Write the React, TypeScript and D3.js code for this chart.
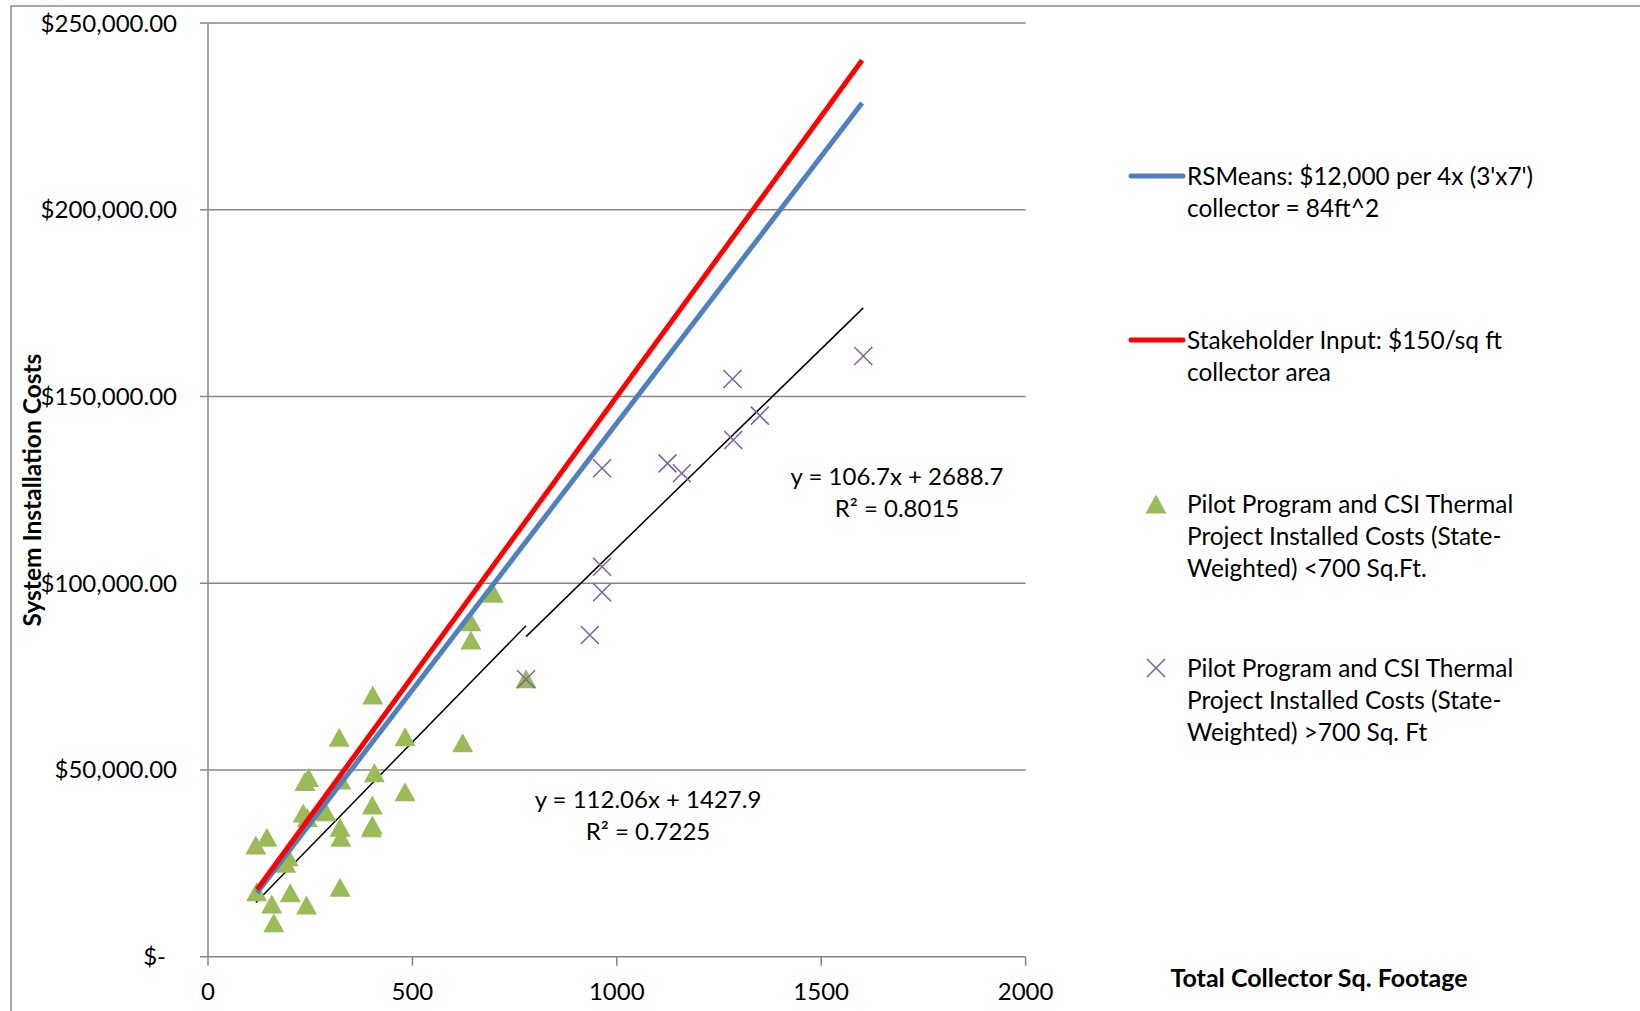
import React, { useEffect, useRef } from "react";
import * as d3 from "d3";

// projects under 700 sq ft (triangles)
const smallSqFt = [117, 144, 119, 156, 161, 201, 241, 196, 190, 233, 243, 288, 237, 246, 325, 323, 325, 323, 321, 402, 402, 400, 407, 403, 482, 482, 623, 643, 643, 698, 778];
const smallCost = [29900, 31970, 17400, 14110, 9100, 17140, 13840, 26780, 25000, 38500, 37300, 38830, 46900, 48000, 47310, 34640, 31970, 18580, 58740, 40620, 35260, 34500, 49270, 70070, 44180, 58900, 57300, 84800, 89700, 97300, 74400];

// projects over 700 sq ft (crosses)
const largeSqFt = [778, 934, 964, 964, 964, 1124, 1159, 1283, 1285, 1350, 1603];
const largeCost = [74300, 86130, 97570, 104420, 130770, 132100, 129430, 154680, 138350, 144860, 160840];

// reference cost lines
const refSqFt = [120, 1600];
const rsMeansCost = [17143, 228571];
const stakeholderCost = [18000, 240000];

// linear trendlines (small, large)
const trendSlopes = [112.06, 106.7];
const trendIntercepts = [1427.9, 2688.7];
const trendFrom = [117, 778];
const trendTo = [778, 1603];
const trendEq = ["y = 112.06x + 1427.9", "y = 106.7x + 2688.7"];
const trendR2 = ["R² = 0.7225", "R² = 0.8015"];

const xTicks = [0, 500, 1000, 1500, 2000];
const yTicks = [0, 50000, 100000, 150000, 200000, 250000];

const legendLines = [
  ["RSMeans: $12,000 per 4x (3'x7')", "collector = 84ft^2"],
  ["Stakeholder Input: $150/sq ft", "collector area"],
  ["Pilot Program and CSI Thermal", "Project Installed Costs (State-", "Weighted) <700 Sq.Ft."],
  ["Pilot Program and CSI Thermal", "Project Installed Costs (State-", "Weighted) >700 Sq. Ft"],
];

const BLUE = "#4F81BD";
const RED = "#FF0000";
const GREEN = "#9BBB59";
const PURPLE = "#8064A2";
const GRID = "#868686";
const FONT = "Lato, 'Open Sans', sans-serif";

const App = () => {
  const svgRef = useRef<SVGSVGElement>(null);

  useEffect(() => {
    const svg = d3.select(svgRef.current);
    svg.selectAll("*").remove();

    const left = 208;
    const right = 1025.6;
    const top = 23;
    const bottom = 956.7;

    const x = d3.scaleLinear().domain([0, 2000]).range([left, right]);
    const y = d3.scaleLinear().domain([0, 250000]).range([bottom, top]);

    // outer chart frame (cut by the picture edge)
    svg
      .append("path")
      .attr("d", `M11,1011 V6 H1640`)
      .attr("fill", "none")
      .attr("stroke", "#8a8a8a")
      .attr("stroke-width", 1.5);

    // gridlines + y ticks
    svg
      .append("g")
      .selectAll("line")
      .data(yTicks)
      .join("line")
      .attr("x1", left - 8)
      .attr("x2", right)
      .attr("y1", (d) => y(d))
      .attr("y2", (d) => y(d))
      .attr("stroke", GRID)
      .attr("stroke-width", 1.5);

    // y axis line
    svg
      .append("line")
      .attr("x1", left)
      .attr("x2", left)
      .attr("y1", top)
      .attr("y2", bottom)
      .attr("stroke", GRID)
      .attr("stroke-width", 1.5);

    // x ticks
    svg
      .append("g")
      .selectAll("line")
      .data(xTicks)
      .join("line")
      .attr("x1", (d) => x(d))
      .attr("x2", (d) => x(d))
      .attr("y1", bottom)
      .attr("y2", bottom + 9)
      .attr("stroke", GRID)
      .attr("stroke-width", 1.5);

    const yFmt = (d: number) => (d === 0 ? "$-" : "$" + d3.format(",.2f")(d));
    svg
      .append("g")
      .selectAll("text")
      .data(yTicks)
      .join("text")
      .attr("x", (d) => (d === 0 ? 166 : 177))
      .attr("y", (d) => y(d) + 8.5)
      .attr("text-anchor", "end")
      .style("font-family", FONT)
      .style("font-size", "24px")
      .text(yFmt);

    svg
      .append("g")
      .selectAll("text")
      .data(xTicks)
      .join("text")
      .attr("x", (d) => x(d))
      .attr("y", 1000)
      .attr("text-anchor", "middle")
      .style("font-family", FONT)
      .style("font-size", "24px")
      .text((d) => String(d));

    // axis titles
    svg
      .append("text")
      .attr("transform", `translate(41,490) rotate(-90)`)
      .attr("text-anchor", "middle")
      .style("font-family", FONT)
      .style("font-size", "24.5px")
      .style("font-weight", "bold")
      .text("System Installation Costs");

    svg
      .append("text")
      .attr("x", 1319)
      .attr("y", 987)
      .attr("text-anchor", "middle")
      .style("font-family", FONT)
      .style("font-size", "25px")
      .style("font-weight", "bold")
      .text("Total Collector Sq. Footage");

    // trendlines
    trendSlopes.forEach((m, i) => {
      const pts: [number, number][] = [trendFrom[i], trendTo[i]].map((v) => [v, m * v + trendIntercepts[i]]);
      svg
        .append("path")
        .datum(pts)
        .attr("fill", "none")
        .attr("stroke", "#000")
        .attr("stroke-width", 1.5)
        .attr(
          "d",
          d3
            .line<[number, number]>()
            .x((d) => x(d[0]))
            .y((d) => y(d[1]))
        );
    });

    // triangles
    const tri = "M0,-9.5 L10.5,9.5 L-10.5,9.5 Z";
    svg
      .append("g")
      .selectAll("path")
      .data(smallSqFt)
      .join("path")
      .attr("d", tri)
      .attr("transform", (d, i) => `translate(${x(d)},${y(smallCost[i])})`)
      .attr("fill", GREEN);

    // crosses
    const cross = "M-9,-9 L9,9 M-9,9 L9,-9";
    svg
      .append("g")
      .selectAll("path")
      .data(largeSqFt)
      .join("path")
      .attr("d", cross)
      .attr("transform", (d, i) => `translate(${x(d)},${y(largeCost[i])})`)
      .attr("fill", "none")
      .attr("stroke", PURPLE)
      .attr("stroke-width", 1.6);

    // reference lines
    const refLine = d3
      .line<number>()
      .x((d, i) => x(refSqFt[i]))
      .y((d) => y(d));
    svg
      .append("path")
      .datum(rsMeansCost)
      .attr("fill", "none")
      .attr("stroke", BLUE)
      .attr("stroke-width", 5)
      .attr("d", refLine);
    svg
      .append("path")
      .datum(stakeholderCost)
      .attr("fill", "none")
      .attr("stroke", RED)
      .attr("stroke-width", 5)
      .attr("d", refLine);

    // trendline labels
    const eqPos = [
      [648, 808],
      [897, 485],
    ];
    trendEq.forEach((t, i) => {
      const g = svg
        .append("text")
        .attr("text-anchor", "middle")
        .style("font-family", FONT)
        .style("font-size", "24px");
      g.append("tspan").attr("x", eqPos[i][0]).attr("y", eqPos[i][1]).text(t);
      g.append("tspan").attr("x", eqPos[i][0]).attr("y", eqPos[i][1] + 32).text(trendR2[i]);
    });

    // legend
    const legendY = [176, 340, 504, 668];
    const lg = svg.append("g");
    legendLines.forEach((lines, i) => {
      const cy = legendY[i];
      if (i < 2) {
        lg.append("line")
          .attr("x1", 1131)
          .attr("x2", 1183)
          .attr("y1", cy)
          .attr("y2", cy)
          .attr("stroke", i === 0 ? BLUE : RED)
          .attr("stroke-width", 5)
          .attr("stroke-linecap", "round");
      } else if (i === 2) {
        lg.append("path").attr("d", tri).attr("transform", `translate(1156,${cy})`).attr("fill", GREEN);
      } else {
        lg.append("path")
          .attr("d", cross)
          .attr("transform", `translate(1156,${cy})`)
          .attr("fill", "none")
          .attr("stroke", PURPLE)
          .attr("stroke-width", 1.6);
      }
      const t = lg
        .append("text")
        .style("font-family", FONT)
        .style("font-size", "24.4px");
      lines.forEach((s, j) => {
        t.append("tspan")
          .attr("x", 1187)
          .attr("y", cy + 8.5 + j * 32.4)
          .text(s);
      });
    });
  }, []);

  return (
    <svg
      ref={svgRef}
      width={1640}
      height={1011}
      style={{ position: "absolute", left: 0, top: 0, background: "#fff" }}
    ></svg>
  );
};

export default App;
